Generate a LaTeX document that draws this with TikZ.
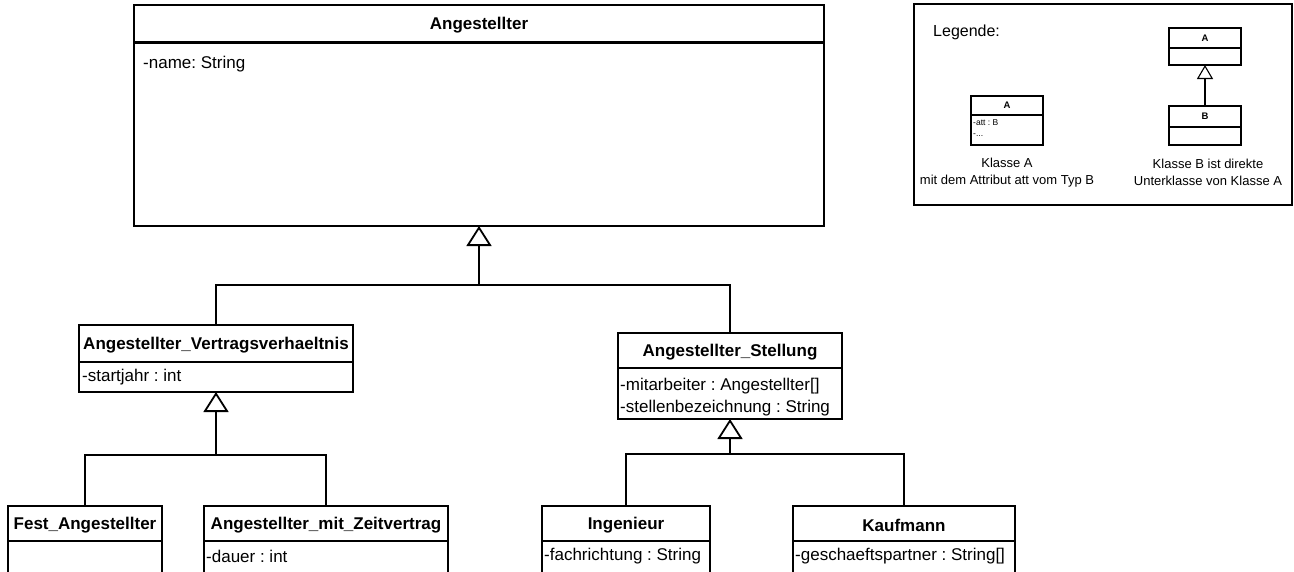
\documentclass[tikz,border=0pt]{standalone}
\usepackage{fontspec}
\setmainfont{Liberation Sans}
\usetikzlibrary{arrows.meta}
\frenchspacing
\begin{document}
\begin{tikzpicture}[x=1pt,y=-1pt,
  box/.style={draw, line width=1.8pt, rectangle, inner sep=0pt, outer sep=0pt, anchor=north west},
  divl/.style={line width=1.8pt},
  ttl/.style={font=\fontsize{17}{20}\selectfont\bfseries, inner sep=0pt, yshift=-1.5pt},
  att/.style={font=\fontsize{17}{20}\selectfont, inner sep=0pt, anchor=west, yshift=-1.5pt},
  conn/.style={line width=1.8pt},
  gen/.style={line width=1.8pt, -{Triangle[open, length=20pt, width=25pt]}},
  lbox/.style={draw, line width=1.1pt, rectangle, inner sep=0pt, outer sep=0pt, anchor=north west},
  ldiv/.style={line width=1.1pt},
  lttl/.style={font=\fontsize{9.5}{11}\selectfont\bfseries, inner sep=0pt},
  latt/.style={font=\fontsize{8.5}{10}\selectfont, inner sep=0pt, anchor=west},
  ltxt/.style={font=\fontsize{13}{17}\selectfont, align=center, inner sep=0pt},
  lgen/.style={line width=1.1pt, -{Triangle[open, length=14pt, width=16pt]}}
]
\useasboundingbox (0,0) rectangle (1294,571);
\clip (0,0) rectangle (1294,571);
\fill[white] (0,0) rectangle (1294,571);

% Angestellter
\node[box, minimum width=690pt, minimum height=221pt] (ang) at (134,5) {};
\draw[divl, line width=3pt] (134,42) -- (824,42);
\node[ttl] (angT) at (479,24) {Angestellter};
\node[att] (angA) at (143,63) {-name: String};

% Angestellter_Vertragsverhaeltnis
\node[box, minimum width=274pt, minimum height=67pt] (vv) at (79,325) {};
\draw[divl] (79,362) -- (353,362);
\node[ttl] (vvT) at (216,344) {Angestellter\_Vertragsverhaeltnis};
\node[att] (vvA) at (82,376) {-startjahr : int};

% Angestellter_Stellung
\node[box, minimum width=224pt, minimum height=86pt] (st) at (618,333) {};
\draw[divl] (618,368) -- (842,368);
\node[ttl] (stT) at (730,351) {Angestellter\_Stellung};
\node[att] (stA) at (620,385) {-mitarbeiter : Angestellter[]};
\node[att] (stB) at (620,407) {-stellenbezeichnung : String};

% Fest_Angestellter
\node[box, minimum width=154pt, minimum height=90pt] (fest) at (8,506) {};
\draw[divl] (8,541) -- (162,541);
\node[ttl] (festT) at (85,524) {Fest\_Angestellter};

% Angestellter_mit_Zeitvertrag
\node[box, minimum width=244pt, minimum height=90pt] (zeit) at (204,506) {};
\draw[divl] (204,541) -- (448,541);
\node[ttl] (zeitT) at (326,524) {Angestellter\_mit\_Zeitvertrag};
\node[att] (zeitA) at (206,555) {-dauer : int};

% Ingenieur
\node[box, minimum width=168pt, minimum height=90pt] (ing) at (542,506) {};
\draw[divl] (542,541) -- (710,541);
\node[ttl] (ingT) at (626,524) {Ingenieur};
\node[att] (ingA) at (544,555) {-fachrichtung : String};

% Kaufmann
\node[box, minimum width=222pt, minimum height=90pt] (kauf) at (793,506) {};
\draw[divl] (793,541) -- (1015,541);
\node[ttl] (kaufT) at (904,524) {Kaufmann};
\node[att] (kaufA) at (795,555) {-geschaeftspartner : String[]};

% generalisation connectors
\coordinate (bus1) at (479,285);
\coordinate (bus2) at (216,455);
\coordinate (bus3) at (730,454);
\draw[conn] (vv.north) |- (bus1);
\draw[conn] (st.north) |- (bus1);
\draw[gen] (bus1) -- (ang.south);
\draw[conn] (fest.north) |- (bus2);
\draw[conn] (zeit.north) |- (bus2);
\draw[gen] (bus2) -- (vv.south);
\draw[conn] (ing.north) |- (bus3);
\draw[conn] (kauf.north) |- (bus3);
\draw[gen] (bus3) -- (st.south);

% Legend
\node[lbox, minimum width=378pt, minimum height=201pt] (leg) at (914,4) {};
\node[font=\fontsize{16}{19}\selectfont, inner sep=0pt, anchor=west] (legT) at (933,32) {Legende:};

\node[lbox, minimum width=72pt, minimum height=49pt] (la) at (971,96) {};
\draw[ldiv] (971,115) -- (1043,115);
\node[lttl] (laT) at (1007,105.5) {A};
\node[latt] (laA) at (973,123) {-att : B};
\node[latt] (laB) at (973,135) {-...};
\node[ltxt] (laL) at (1007,172.5) {Klasse A\\mit dem Attribut att vom Typ B};

\node[lbox, minimum width=72pt, minimum height=37pt] (ra) at (1169,28) {};
\draw[ldiv] (1169,48) -- (1241,48);
\node[lttl] (raT) at (1205,38) {A};
\node[lbox, minimum width=72pt, minimum height=39pt] (rb) at (1169,106) {};
\draw[ldiv] (1169,127) -- (1241,127);
\node[lttl] (rbT) at (1205,116.5) {B};
\draw[lgen] (rb.north) -- (ra.south);
\node[ltxt] (rbL) at (1208,172.5) {Klasse B ist direkte\\Unterklasse von Klasse A};
\end{tikzpicture}
\end{document}
